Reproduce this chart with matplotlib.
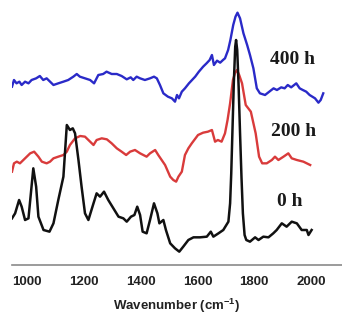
import numpy as np
import matplotlib
matplotlib.use("Agg")
import matplotlib.pyplot as plt

plt.rcParams["mathtext.fontset"] = "custom"
plt.rcParams["mathtext.rm"] = "Liberation Sans"
plt.rcParams["mathtext.bf"] = "Liberation Sans:bold"

# FTIR spectra, stacked with vertical offset (arbitrary units)
wn_0h = [947, 958, 972, 981, 993, 1005, 1022, 1032, 1040, 1058,
         1079, 1093, 1110, 1128, 1140, 1151, 1161, 1169, 1181, 1192,
         1204, 1216, 1234, 1245, 1257, 1271, 1286, 1304, 1322, 1339,
         1351, 1366, 1378, 1388, 1398, 1407, 1421, 1433, 1447, 1459,
         1466, 1480, 1489, 1504, 1521, 1536, 1550, 1568, 1586, 1609,
         1633, 1647, 1656, 1674, 1691, 1709, 1715, 1719, 1723, 1728,
         1733, 1736, 1740, 1745, 1750, 1755, 1760, 1766, 1772, 1785,
         1803, 1815, 1832, 1850, 1867, 1879, 1897, 1914, 1932, 1950,
         1967, 1985, 1991, 2002]
int_0h = [655, 640, 600, 620, 660, 655, 505, 560, 650, 690,
          695, 670, 600, 530, 375, 390, 385, 400, 480, 560,
          640, 660, 610, 580, 590, 575, 600, 625, 650, 655,
          665, 650, 645, 620, 645, 695, 700, 660, 610, 640,
          670, 660, 690, 730, 745, 755, 740, 720, 712, 712,
          710, 695, 710, 700, 690, 665, 610, 520, 400, 250,
          140, 120, 150, 260, 400, 530, 640, 705, 720, 725,
          712, 720, 710, 712, 700, 690, 670, 680, 665, 670,
          690, 690, 705, 690]

wn_200h = [947, 954, 964, 975, 993, 1011, 1025, 1040, 1052, 1069,
           1081, 1093, 1110, 1128, 1140, 1151, 1169, 1187, 1204, 1216,
           1234, 1245, 1263, 1281, 1298, 1316, 1333, 1349, 1363, 1380,
           1398, 1421, 1433, 1451, 1462, 1474, 1486, 1504, 1515, 1525,
           1533, 1545, 1556, 1568, 1580, 1602, 1620, 1637, 1651, 1662,
           1672, 1685, 1697, 1706, 1715, 1725, 1732, 1739, 1747, 1757,
           1770, 1788, 1805, 1817, 1828, 1844, 1862, 1873, 1885, 1903,
           1920, 1932, 1950, 1973, 1997]
int_200h = [515, 490, 485, 490, 475, 460, 455, 470, 485, 490,
            485, 475, 470, 465, 455, 435, 415, 408, 410, 420,
            435, 420, 415, 418, 430, 445, 455, 465, 455, 450,
            460, 470, 460, 450, 465, 480, 495, 530, 540, 545,
            530, 515, 465, 445, 430, 405, 398, 395, 390, 425,
            420, 425, 400, 360, 310, 240, 220, 210, 225, 250,
            315, 335, 400, 470, 490, 490, 480, 470, 480, 470,
            460, 475, 480, 485, 495]

wn_400h = [947, 954, 963, 973, 981, 993, 1005, 1016, 1032, 1045,
           1057, 1069, 1081, 1093, 1110, 1128, 1145, 1163, 1175, 1186,
           1204, 1222, 1236, 1251, 1268, 1280, 1298, 1316, 1333, 1351,
           1365, 1374, 1386, 1398, 1415, 1433, 1447, 1457, 1468, 1480,
           1496, 1510, 1521, 1528, 1535, 1545, 1556, 1570, 1592, 1605,
           1620, 1632, 1643, 1651, 1658, 1669, 1680, 1690, 1697, 1708,
           1716, 1726, 1734, 1741, 1750, 1762, 1775, 1785, 1797, 1809,
           1820, 1838, 1853, 1868, 1880, 1895, 1907, 1918, 1930, 1948,
           1960, 1971, 1983, 1995, 2014, 2026, 2034, 2043]
int_400h = [260, 240, 250, 245, 255, 245, 250, 240, 235, 228,
            240, 235, 245, 255, 250, 245, 240, 230, 222, 230,
            235, 240, 250, 225, 222, 215, 222, 222, 228, 238,
            232, 240, 230, 235, 240, 235, 230, 235, 255, 280,
            290, 295, 305, 285, 295, 275, 265, 250, 230, 215,
            200, 190, 180, 165, 195, 182, 188, 180, 175, 150,
            120, 75, 50, 38, 55, 100, 135, 165, 205, 265,
            280, 285, 275, 265, 270, 262, 265, 255, 262, 250,
            265, 270, 275, 285, 295, 308, 300, 280]

labels = ["400 h", "200 h", "0 h"]
label_x = [1933, 1940, 1926]
label_y = [618, 399, 189]


def height(vals):
    # readings are depth below the top edge, flip so larger = higher
    return [795 - v for v in vals]


fig = plt.figure(figsize=(3.42, 3.23), dpi=100)
ax = fig.add_axes([12 / 342, 58 / 323, 330 / 342, 265 / 323])

ax.plot(wn_400h, height(int_400h), color="#2a2ac8", lw=1.7)
ax.plot(wn_200h, height(int_200h), color="#d93b3b", lw=1.7)
ax.plot(wn_0h, height(int_0h), color="#111111", lw=1.8)

for lab, lx, ly in zip(labels, label_x, label_y):
    ax.text(lx, ly, lab, fontsize=14, fontweight="bold",
            family="Liberation Serif", ha="center", va="center",
            color="#1a1a1a")

ax.set_xlim(947, 2109)
ax.set_ylim(0, 795)

for side in ["top", "right", "left"]:
    ax.spines[side].set_visible(False)
ax.spines["bottom"].set_color("#8a8a8a")
ax.spines["bottom"].set_linewidth(1.2)

ax.set_yticks([])
ax.set_xticks([1000, 1200, 1400, 1600, 1800, 2000])
ax.tick_params(axis="x", length=0, pad=8, labelsize=9.5, colors="#222222")
for t in ax.get_xticklabels():
    t.set_fontweight("bold")
    t.set_family("Liberation Sans")

ax.set_xlabel("Wavenumber (cm$^{\\mathbf{-1}}$)", fontsize=9.5,
              fontweight="bold", family="Liberation Sans", labelpad=6,
              color="#222222")

fig.savefig("out.png", dpi=100)
